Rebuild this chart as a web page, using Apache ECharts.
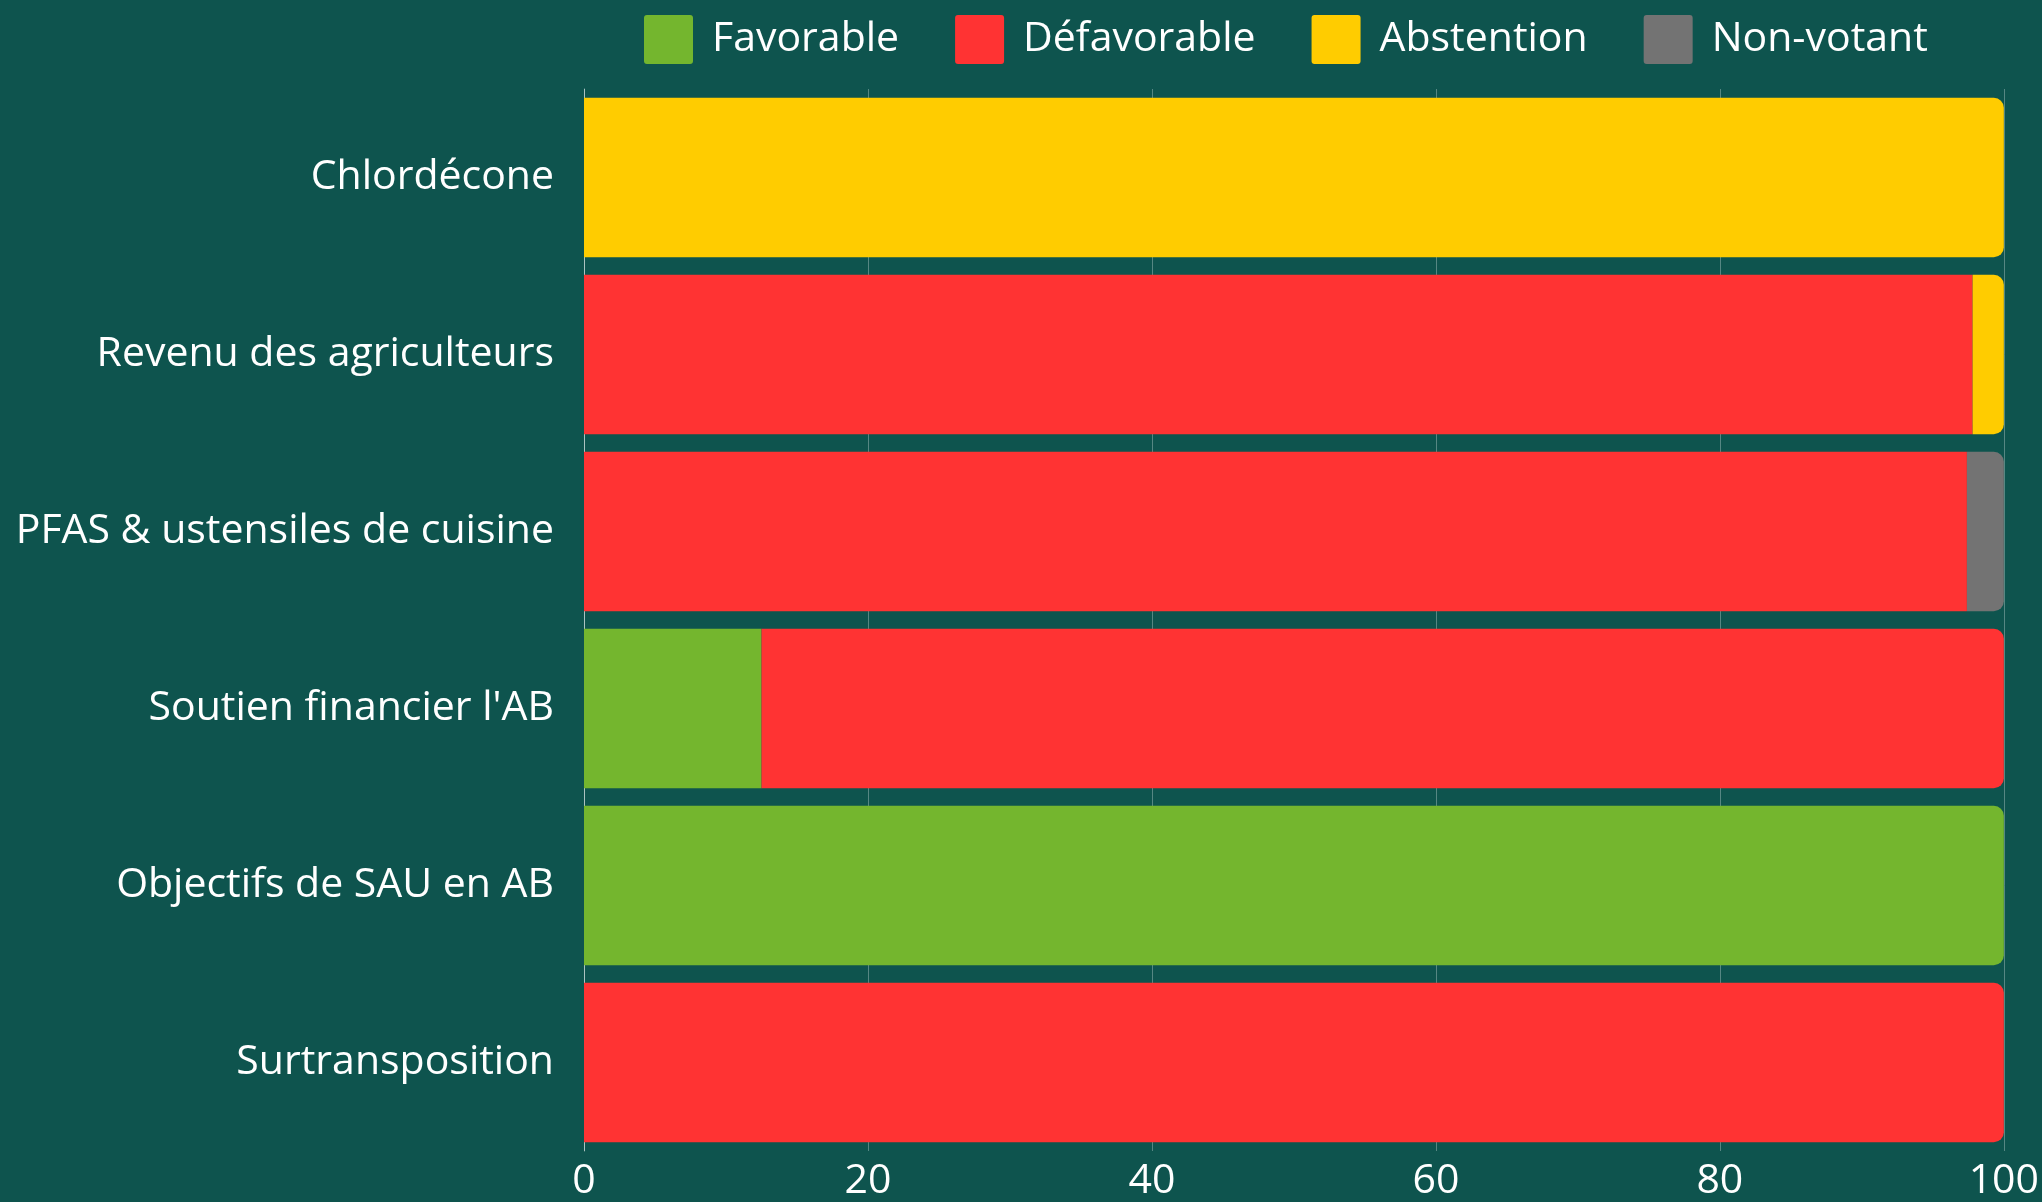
<!DOCTYPE html>
<html><head><meta charset="utf-8">
<script src="https://cdn.jsdelivr.net/npm/echarts@6/dist/echarts.min.js"></script>
<style>html,body{margin:0;padding:0;background:#0E544E;}#c{width:2042px;height:1202px;}</style>
</head><body><div id="c"></div>
<script>
const categories = ["Chlordécone","Revenu des agriculteurs","PFAS & ustensiles de cuisine","Soutien financier l'AB","Objectifs de SAU en AB","Surtransposition"];
const seriesNames = ["Favorable","Défavorable","Abstention","Non-votant"];
const favorable   = [0, 0, 0, 12.5, 100, 0];
const defavorable = [0, 97.8, 97.4, 87.5, 0, 100];
const abstention  = [100, 2.2, 0, 0, 0, 0];
const nonVotant   = [0, 0, 2.6, 0, 0, 0];
const xTicks = [0, 20, 40, 60, 80, 100];
const colors = ["#74B62E","#FF3333","#FFCC00","#737373"];

const all = [favorable, defavorable, abstention, nonVotant];
const FONT = "'Open Sans', 'Noto Sans', sans-serif";
const series = all.map((arr, si) => ({
  name: seriesNames[si],
  type: 'bar',
  stack: 'v',
  barWidth: '90%',
  itemStyle: {color: colors[si]},
  data: arr.map((v, ci) => {
    let last = -1;
    all.forEach((a, k) => { if (a[ci] > 0) last = k; });
    return {value: v, itemStyle: {borderRadius: last === si ? [0, 10, 10, 0] : 0}};
  })
}));

const chart = echarts.init(document.getElementById('c'));
chart.setOption({
  backgroundColor: '#0E544E',
  animation: false,
  textStyle: {fontFamily: FONT},
  legend: {
    top: 10, left: 639,
    itemWidth: 49, itemHeight: 49, itemGap: 56,
    icon: 'path://M3,0 H47 A3,3 0 0 1 50,3 V47 A3,3 0 0 1 47,50 H3 A3,3 0 0 1 0,47 V3 A3,3 0 0 1 3,0 Z',
    textStyle: {color: '#ffffff', fontSize: 41, fontFamily: FONT, padding: [0, 0, 0, 14]},
    data: seriesNames
  },
  grid: {left: 584, right: 37, top: 89, bottom: 51, containLabel: false},
  xAxis: {
    type: 'value', min: 0, max: 100, interval: 20,
    axisLine: {show: false},
    axisTick: {show: false},
    splitLine: {show: true, lineStyle: {color: 'rgba(255,255,255,0.3)', width: 1}},
    axisLabel: {color: '#ffffff', fontSize: 41, fontFamily: FONT, margin: 10,
      formatter: v => xTicks.includes(v) ? String(v) : ''}
  },
  yAxis: {
    type: 'category', data: categories, inverse: true,
    axisLine: {show: true, lineStyle: {color: 'rgba(255,255,255,0.5)'}},
    axisTick: {show: false},
    axisLabel: {color: '#ffffff', fontSize: 41, fontFamily: FONT, margin: 30}
  },
  series: series
});
</script></body></html>
